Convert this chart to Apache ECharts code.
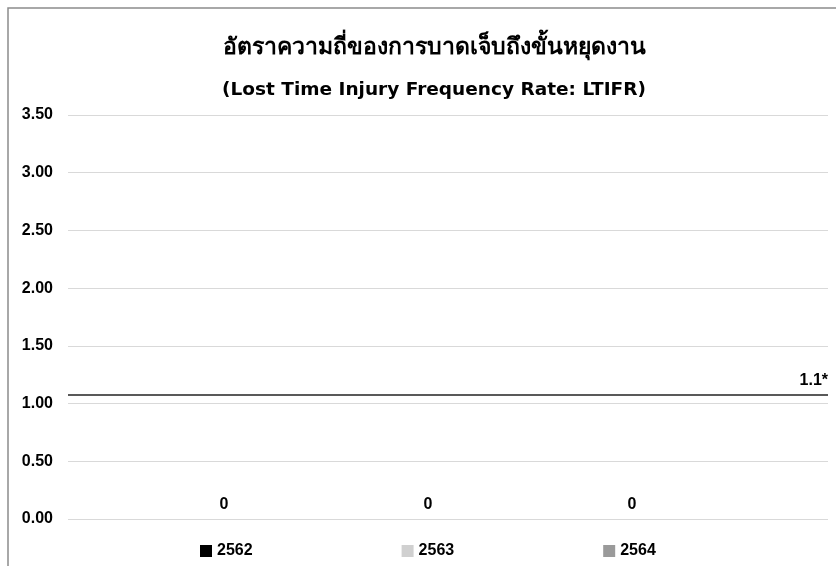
<!DOCTYPE html>
<html><head><meta charset="utf-8">
<script src="https://cdn.jsdelivr.net/npm/echarts@6/dist/echarts.min.js"></script>
<style>html,body{margin:0;padding:0;background:#fff}#c{width:836px;height:566px}</style>
</head><body><div id="c"></div>
<script>
var categories = [''];
var seriesNames = ['2562', '2563', '2564'];
var values2562 = [0];
var values2563 = [0];
var values2564 = [0];
var seriesColors = ['#000000', '#d0d0d0', '#9a9a9a'];
var targetValue = 1.08;
var targetLabel = '1.1*';
var yTicks = [0, 0.5, 1, 1.5, 2, 2.5, 3, 3.5];

var FONT = '"Liberation Sans", "Noto Sans", "DejaVu Sans", sans-serif';
var chart = echarts.init(document.getElementById('c'));
var seriesValues = [values2562, values2563, values2564];

var barSeries = seriesNames.map(function (n, i) {
  return {
    name: n, type: 'bar', xAxisIndex: 1, yAxisIndex: 1,
    data: seriesValues[i], barWidth: 204, barGap: '0%',
    itemStyle: { color: seriesColors[i] },
    label: { show: true, position: 'top', distance: 6, color: '#000',
      fontFamily: FONT, fontWeight: 'bold', fontSize: 16,
      formatter: function (p) { return String(p.value); } }
  };
});

chart.setOption({
  animation: false,
  backgroundColor: '#fff',
  textStyle: { fontFamily: FONT },
  title: [{
    text: 'อัตราความถี่ของการบาดเจ็บถึงขั้นหยุดงาน',
    left: 429, top: 31, textAlign: 'center',
    textStyle: { fontFamily: FONT, fontWeight: 'bold', fontSize: 23, color: '#000' }
  }, {
    text: '(Lost Time Injury Frequency Rate: LTIFR)',
    left: 429, top: 76, textAlign: 'center',
    textStyle: { fontFamily: '"DejaVu Sans", "Liberation Sans", sans-serif', fontWeight: 'bold', fontSize: 18.5, color: '#000' }
  }],
  legend: {
    data: seriesNames, left: 195, top: 538, itemWidth: 12, itemHeight: 12,
    itemGap: 149, icon: 'rect',
    textStyle: { fontFamily: FONT, fontWeight: 'bold', fontSize: 16, color: '#000' }
  },
  grid: [
    { left: 68, right: 8, top: 115, bottom: 47 },
    { left: 68, right: 48, top: 115, bottom: 47 }
  ],
  xAxis: [
    { type: 'category', gridIndex: 0, data: categories, show: false },
    { type: 'category', gridIndex: 1, data: categories, show: false }
  ],
  yAxis: [
    { type: 'value', gridIndex: 0, min: yTicks[0], max: yTicks[yTicks.length - 1], interval: 0.5,
      axisLine: { show: false }, axisTick: { show: false },
      splitLine: { lineStyle: { color: '#d9d9d9', width: 1 } },
      axisLabel: { margin: 15, color: '#000', fontFamily: FONT, fontWeight: 'bold', fontSize: 16,
        formatter: function (v) { return v.toFixed(2); } } },
    { type: 'value', gridIndex: 1, min: yTicks[0], max: yTicks[yTicks.length - 1], interval: 0.5, show: false,
      splitLine: { show: false } }
  ],
  graphic: [{
    type: 'polyline', silent: true,
    shape: { points: [[8, 566], [8, 8], [836, 8]] },
    style: { stroke: '#8c8c8c', lineWidth: 1.5, fill: null }
  }],
  series: barSeries.concat([{
    name: 'target', type: 'line', xAxisIndex: 0, yAxisIndex: 0, data: [],
    markLine: {
      silent: true, symbol: ['none', 'none'],
      lineStyle: { color: '#595959', width: 1.8, type: 'solid' },
      label: { show: true, position: 'insideEndTop', formatter: targetLabel, distance: [0, 6],
        color: '#000', fontFamily: FONT, fontWeight: 'bold', fontSize: 16 },
      data: [{ yAxis: targetValue }]
    }
  }])
});
</script></body></html>
